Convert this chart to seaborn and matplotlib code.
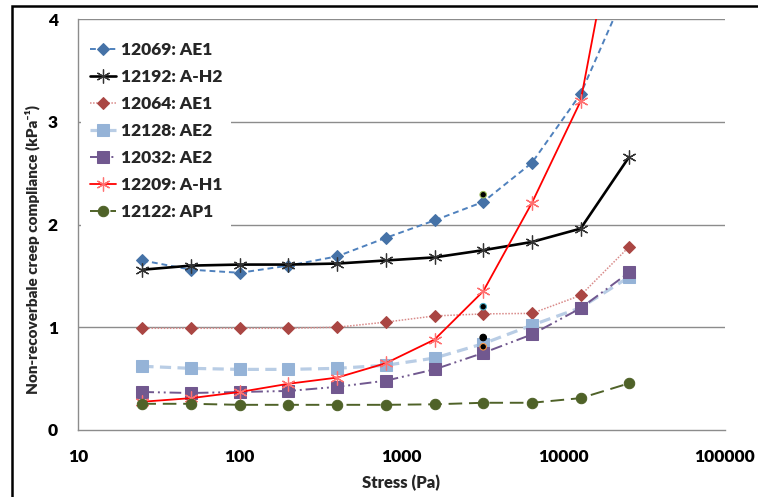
import matplotlib
matplotlib.use("Agg")
import matplotlib.pyplot as plt
from matplotlib.patches import Rectangle
import seaborn as sns

stress = [25, 50, 100, 200, 400, 800, 1600, 3200, 6400, 12800, 25600]

s12069 = [1.65, 1.56, 1.53, 1.60, 1.69, 1.87, 2.04, 2.22, 2.60, 3.27, 4.35]
s12192 = [1.56, 1.60, 1.61, 1.61, 1.62, 1.65, 1.68, 1.75, 1.83, 1.96, 2.66]
s12064 = [0.99, 0.99, 0.99, 0.99, 1.00, 1.05, 1.11, 1.13, 1.135, 1.31, 1.785]
s12128 = [0.62, 0.60, 0.59, 0.59, 0.60, 0.63, 0.70, 0.84, 1.02, 1.19, 1.49]
s12032 = [0.37, 0.36, 0.37, 0.38, 0.42, 0.48, 0.59, 0.75, 0.93, 1.185, 1.535]
s12209 = [0.275, 0.31, 0.37, 0.45, 0.51, 0.65, 0.88, 1.35, 2.21, 3.20, 5.7]
s12122 = [0.255, 0.255, 0.245, 0.245, 0.245, 0.245, 0.25, 0.265, 0.265, 0.31, 0.455]

# the loose black dots at 3200 Pa
dot_x = [3200, 3200, 3200, 3200]
dot_y = [2.29, 1.20, 0.90, 0.81]
dot_edges = ["#9bbb59", "#4bacc6", "#000000", "#f79646"]

x_ticks = [10, 100, 1000, 10000, 100000]
x_labels = ["10", "100", "1000", "10000", "100000"]
y_ticks = [0, 1, 2, 3, 4]

sns.set_style("white")
plt.rcParams["font.family"] = ["Lato", "DejaVu Sans"]
W = "heavy"

fig = plt.figure(figsize=(7.58, 4.97), dpi=100)
ax = fig.add_axes([78 / 758, 1 - 430 / 497, 647 / 758, 411 / 497])

asterisk = (6, 2, 0)

sns.lineplot(x=stress, y=s12069, ax=ax, label="12069: AE1", color="#4f81bd",
             linewidth=1.4, linestyle=(0, (3, 2)), marker="D", markersize=6.5,
             markerfacecolor="#4572a7", markeredgecolor="#4572a7")
sns.lineplot(x=stress, y=s12192, ax=ax, label="12192: A-H2", color="black",
             linewidth=1.9, marker=asterisk, markersize=10,
             markeredgecolor="#333333", markeredgewidth=0.9)
sns.lineplot(x=stress, y=s12064, ax=ax, label="12064: AE1", color="#d98b8a",
             linewidth=1.1, linestyle=(0, (1, 1)), marker="D", markersize=6.5,
             markerfacecolor="#aa4643", markeredgecolor="#aa4643")
sns.lineplot(x=stress, y=s12128, ax=ax, label="12128: AE2", color="#b9cde5",
             linewidth=2.3, linestyle=(0, (3.5, 2)), marker="s", markersize=8,
             markerfacecolor="#95b3d7", markeredgecolor="#95b3d7")
sns.lineplot(x=stress, y=s12032, ax=ax, label="12032: AE2", color="#71588f",
             linewidth=1.4, linestyle=(0, (6, 2, 1, 2, 1, 2)), marker="s", markersize=8,
             markerfacecolor="#71588f", markeredgecolor="#71588f")
sns.lineplot(x=stress, y=s12209, ax=ax, label="12209: A-H1", color="#ff0000",
             linewidth=1.3, marker=asterisk, markersize=10,
             markeredgecolor="#ff7070", markeredgewidth=0.9)
sns.lineplot(x=stress, y=s12122, ax=ax, label="12122: AP1", color="#4f6228",
             linewidth=1.4, linestyle=(0, (7, 3.5)), marker="o", markersize=7.5,
             markerfacecolor="#4f6228", markeredgecolor="#4f6228")

ax.scatter(dot_x, dot_y, s=22, color="black", edgecolors=dot_edges,
           linewidths=0.8, zorder=5)

ax.set_xscale("log")
ax.set_xlim(10, 100000)
ax.set_ylim(0, 4)
ax.set_xticks(x_ticks)
ax.set_xticklabels(x_labels)
ax.minorticks_off()
ax.set_yticks(y_ticks)
ax.set_yticklabels([str(v) for v in y_ticks])

for v in y_ticks[1:]:
    ax.axhline(v, color="#8c8c8c", linewidth=1.0, zorder=0)

for side in ["top", "right"]:
    ax.spines[side].set_visible(False)
for side in ["left", "bottom"]:
    ax.spines[side].set_color("#8c8c8c")
    ax.spines[side].set_linewidth(1.0)

ax.tick_params(axis="both", which="major", direction="out", length=4.5,
               width=1.0, color="#8c8c8c", labelsize=12.5, labelcolor="black")
ax.tick_params(axis="x", pad=9)
ax.tick_params(axis="y", pad=10)
for lab in ax.get_xticklabels() + ax.get_yticklabels():
    lab.set_fontweight(W)

ax.set_xlabel("Stress (Pa)", fontsize=12, fontweight=W, labelpad=7)
ax.set_ylabel("")
fig.text(32 / 758, 1 - 250 / 497, "Non-recoverbale creep compliance (kPa\u207b\u00b9)",
         rotation=90, ha="center", va="center", fontsize=11.0, fontweight=W)

leg = ax.legend(loc="upper left", bbox_to_anchor=(0.005, 0.965), frameon=True,
                fancybox=False, framealpha=1.0, edgecolor="white",
                prop={"size": 12.5, "weight": W}, handlelength=1.5,
                handletextpad=0.3, labelspacing=0.63, borderpad=0.5,
                borderaxespad=0)
leg.get_frame().set_linewidth(0)

fig.patches.append(Rectangle((12 / 758, -0.2), 1.5, 1.2 - 6 / 497,
                             transform=fig.transFigure, fill=False,
                             edgecolor="black", linewidth=1.8))

fig.savefig("out.png", dpi=100)
